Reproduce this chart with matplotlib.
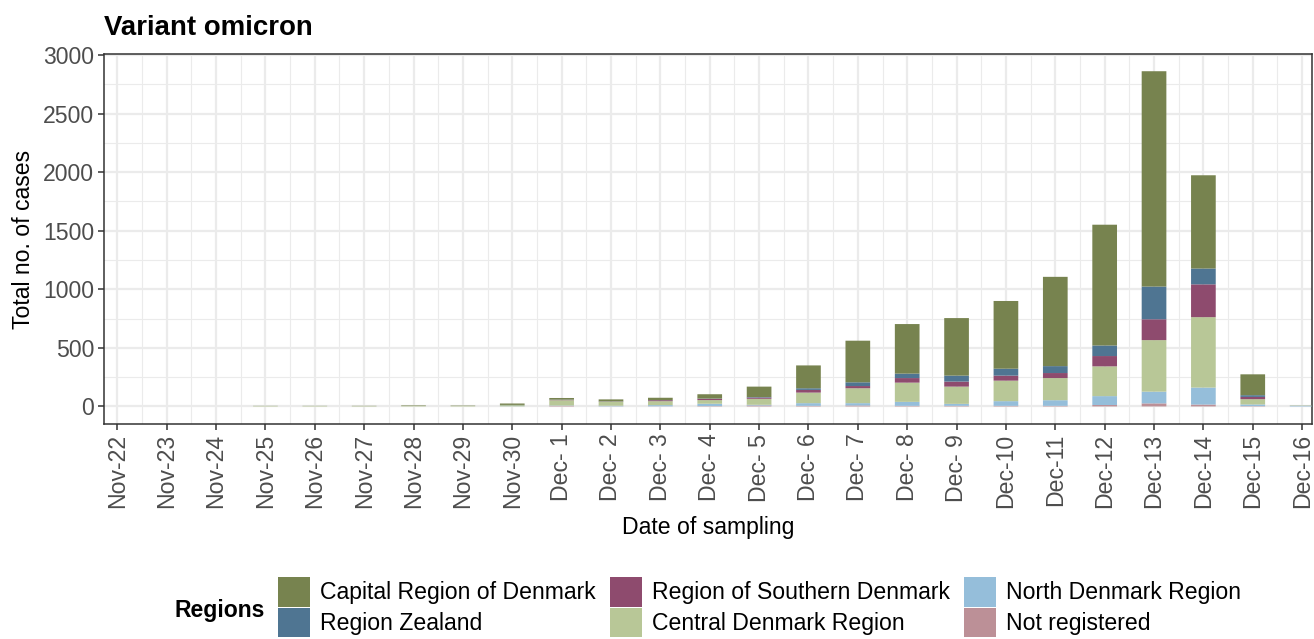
import matplotlib
matplotlib.use("Agg")
import matplotlib.pyplot as plt
from matplotlib.patches import Patch
import numpy as np

plt.rcParams["font.family"] = ["Liberation Sans", "DejaVu Sans"]

dates = [
    "Nov-22", "Nov-23", "Nov-24", "Nov-25", "Nov-26", "Nov-27", "Nov-28",
    "Nov-29", "Nov-30", "Dec- 1", "Dec- 2", "Dec- 3", "Dec- 4", "Dec- 5",
    "Dec- 6", "Dec- 7", "Dec- 8", "Dec- 9", "Dec-10", "Dec-11", "Dec-12",
    "Dec-13", "Dec-14", "Dec-15", "Dec-16",
]

# stacked bottom -> top
not_registered = [0, 0, 0, 0, 0, 0, 0, 0, 0, 5, 1, 1, 3, 8, 5, 8, 5, 5, 5, 5, 12, 26, 16, 3, 0]
north = [0, 0, 0, 0, 0, 0, 0, 0, 1, 3, 5, 10, 20, 6, 23, 20, 34, 17, 40, 48, 76, 100, 145, 14, 4]
central = [0, 0, 0, 4, 4, 3, 5, 4, 10, 45, 34, 34, 31, 51, 90, 127, 164, 147, 175, 189, 254, 440, 601, 45, 3]
southern = [0, 0, 0, 0, 0, 0, 0, 0, 0, 3, 2, 8, 11, 11, 23, 19, 39, 43, 43, 43, 88, 178, 280, 19, 0]
zealand = [0, 0, 0, 0, 0, 0, 0, 0, 2, 2, 1, 1, 2, 4, 14, 32, 38, 51, 59, 59, 90, 279, 135, 15, 1]
capital = [0, 0, 0, 1, 1, 2, 4, 3, 12, 14, 17, 20, 37, 89, 195, 355, 423, 491, 578, 762, 1031, 1838, 796, 178, 0]

series = [
    ("Not registered", not_registered, "#BC9097"),
    ("North Denmark Region", north, "#95BEDA"),
    ("Central Denmark Region", central, "#B8C797"),
    ("Region of Southern Denmark", southern, "#8E4B6E"),
    ("Region Zealand", zealand, "#4F7592"),
    ("Capital Region of Denmark", capital, "#77834F"),
]

FS = 16.6

fig = plt.figure(figsize=(13.14, 6.39), dpi=100)
ax = fig.add_axes([104 / 1314, 1 - 424 / 639, 1208 / 1314, 370 / 639])

x = np.arange(len(dates))
bottom = np.zeros(len(dates))
for name, vals, col in series:
    vals = np.array(vals, dtype=float)
    bars = ax.bar(x, vals, 0.5, bottom=bottom, color=col, zorder=3, linewidth=0)
    for b in bars:
        b.set_snap(False)
    bottom += vals

ax.set_xlim(-0.27, 24.2)
ax.set_ylim(-150, 3008)
ax.set_xticks(x)
ax.set_xticklabels(dates, rotation=90)
ax.set_xticks(x[:-1] + 0.5, minor=True)
ax.set_yticks(np.arange(0, 3001, 500))
ax.set_yticks(np.arange(250, 3001, 500), minor=True)

ax.grid(which="major", color="#EBEBEB", linewidth=1.6, zorder=0)
ax.grid(which="minor", color="#EBEBEB", linewidth=0.8, zorder=0)
ax.tick_params(which="major", length=4, width=1.1, color="#333333",
               labelsize=FS, labelcolor="#4D4D4D", pad=3)
ax.tick_params(which="minor", length=0)
for s in ax.spines.values():
    s.set_color("#333333")
    s.set_linewidth(1.1)

ax.set_xlabel("Date of sampling", fontsize=FS, labelpad=6)
ax.set_ylabel("Total no. of cases", fontsize=FS, labelpad=6)
fig.text(104 / 1314, 1 - 28 / 639, "Variant omicron", fontsize=19.9,
         fontweight="bold", va="center", ha="left")

# legend: column-major order
legend_order = [5, 4, 3, 2, 1, 0]
handles = [Patch(facecolor=series[i][2], edgecolor="none") for i in legend_order]
labels = [series[i][0] for i in legend_order]
fig.legend(handles, labels, ncol=3, loc="upper left",
           bbox_to_anchor=(278 / 1314, 1 - 577 / 639), frameon=False,
           fontsize=FS, handlelength=1.38, handleheight=1.6,
           handletextpad=0.42, columnspacing=0.65, labelspacing=0.05,
           borderpad=0, borderaxespad=0)
fig.text(265 / 1314, 1 - 610 / 639, "Regions", fontsize=FS, fontweight="bold",
         ha="right", va="center")

fig.savefig("out.png", dpi=100)
